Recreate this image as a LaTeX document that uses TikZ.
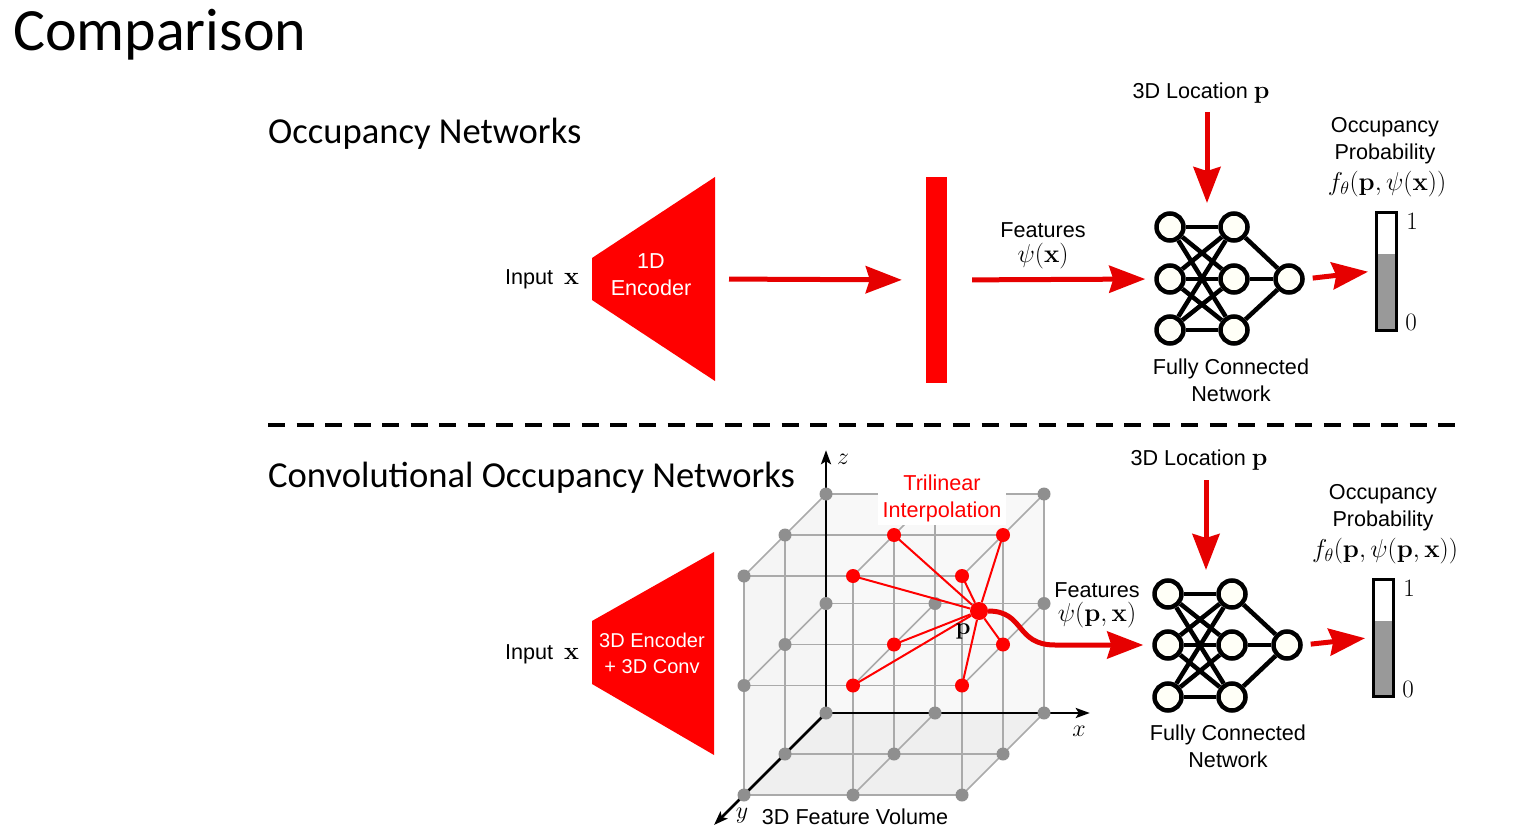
\documentclass[tikz,border=0pt]{standalone}
\usepackage{fix-cm}
\usepackage[no-math]{fontspec}
\newfontfamily\arialfont{Liberation Sans}
\newfontfamily\titlefont{Carlito}
\usetikzlibrary{arrows.meta}
\definecolor{arrowred}{RGB}{230,0,0}
\definecolor{gridgray}{RGB}{170,170,170}
\definecolor{dotgray}{RGB}{143,143,143}
\definecolor{barfill}{RGB}{153,153,153}
\definecolor{faceback}{RGB}{248,248,248}
\definecolor{faceleft}{RGB}{245,245,245}
\definecolor{facebottom}{RGB}{239,239,239}
\newcommand{\mvec}[1]{{\fontsize{25}{27}\selectfont$\mathbf{#1}$}}
\tikzset{
    mynode/.style = {circle, line width=4.5pt, draw=black, fill=yellow!3, minimum size=27pt, inner sep=0pt},
    mydotg/.style = {circle, fill=dotgray, minimum size=13pt, inner sep=0pt},
    mydotr/.style = {circle, fill=red, minimum size=14pt, inner sep=0pt},
    mydotp/.style = {circle, fill=red, minimum size=18pt, inner sep=0pt},
    mybar/.style = {rectangle, line width=3pt, draw=black, minimum width=20pt, inner sep=0pt},
    mytext/.style = {align=center, inner sep=0pt, text=black, font=\arialfont\fontsize{21.6}{27}\selectfont},
    mytextw/.style = {mytext, text=white},
    mytextr/.style = {mytext, text=red, fill=white, inner xsep=5pt, inner ysep=3pt},
    mymath/.style = {inner sep=0pt, font=\fontsize{24}{27}\selectfont},
    mymathd/.style = {inner sep=0pt, font=\fontsize{25}{27}\selectfont},
    mymathl/.style = {inner sep=0pt, font=\fontsize{25.8}{30}\selectfont},
    myhead/.style = {anchor=base west, inner sep=0pt, font=\titlefont\fontsize{36.6}{44}\selectfont},
    edgen/.style = {-, line width=4.5pt, black},
    edger/.style = {-{Stealth[length=36pt, width=27pt, inset=4pt]}, line width=5pt, arrowred},
    edgeg/.style = {-, line width=1.5pt, gridgray},
    edgel/.style = {-, line width=2pt, red},
    edgek/.style = {-{Stealth[length=14pt, width=10pt, inset=3pt]}, line width=2.5pt, black},
    sepline/.style = {line width=4pt, dash pattern=on 17pt off 11.54pt}, % separator
}

\begin{document}
\begin{tikzpicture}[x=1pt, y=-1pt]
  \useasboundingbox (0,0) rectangle (1513,840);
  \node[anchor=base west, inner sep=0pt, font=\titlefont\fontsize{60}{70}\selectfont] (title) at (13,51) {Comparison};
  \node[myhead] (onet) at (268,143) {Occupancy Networks};
  \node[myhead] (convonet) at (268,487) {Convolutional Occupancy Networks};
  \draw[sepline] (268,425) -- (1455,425);

  % occupancy networks
  \node[mytext] (in1) at (542,279) {Input\hspace{5pt} \mvec{x}};
  \fill[red] (592,258) -- (715,177) -- (715,381) -- (592,300) -- cycle;
  \coordinate (enc1) at (715,279);
  \node[mytextw] (enc1txt) at (651,275) {1D\\Encoder};
  \node[rectangle, fill=red, minimum width=21pt, minimum height=206pt, inner sep=0pt] (feat1) at (936.5,280) {};
  \draw[edger, shorten <=14pt, shorten >=24pt] (enc1) -- (feat1.west);
  \node[mytext] (featlbl1) at (1043,230) {Features};
  \node[mymathl] (featm1) at (1043,256) {$\psi(\mathbf{x})$};
  \foreach \r/\y in {1/227,2/279,3/330} {
    \node[mynode] (ta\r) at (1170,\y) {};
    \node[mynode] (tb\r) at (1234,\y) {};
  }
  \node[mynode] (tc) at (1289,279) {};
  \foreach \i in {1,2,3} {
    \foreach \j in {1,2,3} \draw[edgen] (ta\i) -- (tb\j);
    \draw[edgen] (tb\i) -- (tc);
  }
  \draw[edger, shorten <=25pt, shorten >=9pt] (feat1.east) -- (ta2.west);
  \node[mytext] (loc1) at (1201,93) {3D Location \mvec{p}};
  \coordinate (locs1) at (1207,112);
  \coordinate (loce1) at (1207,203);
  \draw[edger] (locs1) -- (loce1);
  \node[mytext] (fc1) at (1231,380.5) {Fully Connected\\Network};
  \fill[barfill] (1376,254) rectangle (1396,330);
  \node[mybar, minimum height=118pt] (prob1) at (1386,271) {};
  \draw[edger, shorten <=8pt, shorten >=6.5pt] (tc.east) -- (prob1.west);
  \node[mymathd] (one1) at (1412,221) {$1$};
  \node[mymathd] (zero1) at (1411,322) {$0$};
  \node[mytext] (occ1) at (1385,140.5) {Occupancy\\Probability};
  \node[mymathl] (f1) at (1387,184) {$f_\theta(\mathbf{p},\psi(\mathbf{x}))$};

  % convolutional occupancy networks
  \node[mytext] (in2) at (542,654) {Input\hspace{5pt} \mvec{x}};
  \fill[red] (592,621) -- (714,552) -- (714,755) -- (592,684) -- cycle;
  \node[mytextw, font=\arialfont\fontsize{20}{26}\selectfont] (enc2txt) at (652,653) {3D Encoder\\+ 3D Conv};
  \begin{scope}[shift={(826,713)}, x={(109pt,0pt)}, y={(-41pt,-41pt)}, z={(0pt,109.5pt)}]
    \fill[faceback] (0,0,0) -- (2,0,0) -- (2,0,2) -- (0,0,2) -- cycle;
    \fill[faceleft] (0,0,0) -- (0,2,0) -- (0,2,2) -- (0,0,2) -- cycle;
    \fill[facebottom] (0,0,0) -- (2,0,0) -- (2,2,0) -- (0,2,0) -- cycle;
    \foreach \i in {0,1,2} \foreach \j in {0,1,2} \foreach \k in {0,1,2}
      \coordinate (g\i\j\k) at (\i,\j,\k);
    \foreach \a in {0,1,2} \foreach \b in {0,1,2} {
      \draw[edgeg] (g0\a\b) -- (g2\a\b);
      \draw[edgeg] (g\a0\b) -- (g\a2\b);
      \draw[edgeg] (g\a\b0) -- (g\a\b2);
    }
    \coordinate (xend) at (2.42,0,0);
    \coordinate (yend) at (0,2.73,0);
    \coordinate (zend) at (0,0,2.4);
    \draw[edgek] (g000) -- (xend);
    \draw[edgek] (g000) -- (yend);
    \draw[edgek] (g000) -- (zend);
    \foreach \i in {0,1,2} \foreach \j in {0,1,2} \foreach \k in {0,1,2} {
      \pgfmathtruncatemacro\isred{(\i>0)*(\j>0)*(\k>0)}
      \ifnum\isred=0 \node[mydotg] (dot\i\j\k) at (g\i\j\k) {}; \fi
    }
  \end{scope}
  \node[mytextr] (tri) at (942,498) {Trilinear\\Interpolation};
  \node[mymath] (xlbl) at (1079,731) {$x$};
  \node[mymath] (ylbl) at (742,816) {$y$};
  \node[mymath] (zlbl) at (843,459) {$z$};
  \node[mytext] (vol) at (855,817) {3D Feature Volume};
  \node[mydotp] (p) at (979,611) {};
  \foreach \i in {1,2} \foreach \j in {1,2} \foreach \k in {1,2} {
    \draw[edgel] (p) -- (g\i\j\k);
    \node[mydotr] (dot\i\j\k) at (g\i\j\k) {};
  }
  \node[mymath] (plbl) at (963,631) {$\mathbf{p}$};
  \node[mytext] (featlbl2) at (1097,590) {Features};
  \node[mymathl] (featm2) at (1097,615) {$\psi(\mathbf{p},\mathbf{x})$};
  \foreach \r/\y in {1/594,2/645,3/697} {
    \node[mynode] (ba\r) at (1168,\y) {};
    \node[mynode] (bb\r) at (1232,\y) {};
  }
  \node[mynode] (bc) at (1287,645) {};
  \foreach \i in {1,2,3} {
    \foreach \j in {1,2,3} \draw[edgen] (ba\i) -- (bb\j);
    \draw[edgen] (bb\i) -- (bc);
  }
  \draw[edger, shorten >=9pt] (p.east) .. controls (1025,611) and (1015,645) .. (1055,645) -- (ba2.west);
  \node[mytext] (loc2) at (1199,460) {3D Location \mvec{p}};
  \coordinate (locs2) at (1206,480);
  \coordinate (loce2) at (1206,570);
  \draw[edger] (locs2) -- (loce2);
  \node[mytext] (fc2) at (1228,746.5) {Fully Connected\\Network};
  \fill[barfill] (1373,621) rectangle (1393,696);
  \node[mybar, minimum height=117pt] (prob2) at (1383,637.5) {};
  \draw[edger, shorten <=8pt, shorten >=6.5pt] (bc.east) -- (prob2.west);
  \node[mymathd] (one2) at (1409,588) {$1$};
  \node[mymathd] (zero2) at (1408,689) {$0$};
  \node[mytext] (occ2) at (1383,507.5) {Occupancy\\Probability};
  \node[mymathl] (f2) at (1385,551) {$f_\theta(\mathbf{p},\psi(\mathbf{p},\mathbf{x}))$};
\end{tikzpicture}
\end{document}
